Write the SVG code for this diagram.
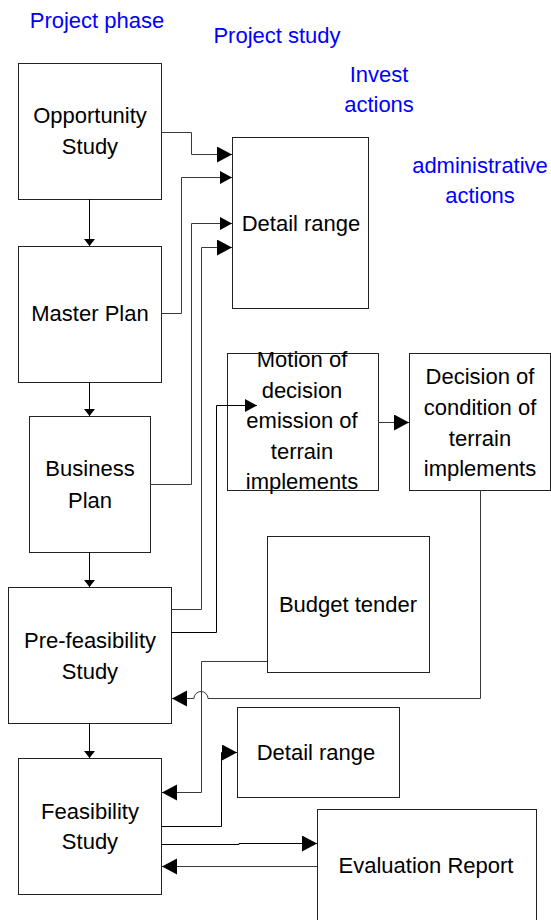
<svg xmlns="http://www.w3.org/2000/svg" width="551" height="920" viewBox="0 0 551 920">
<style>
.box{fill:#fff;stroke:#222;stroke-width:1}
.t{font-family:"Liberation Sans",Arial,sans-serif;font-size:22px;fill:#000;text-anchor:middle}
.b{font-family:"Liberation Sans",Arial,sans-serif;font-size:22px;fill:#0000ff;text-anchor:middle}
.c{fill:none;stroke:#3a3a3a;stroke-width:1}
.v{fill:none;stroke:#000;stroke-width:1}
</style>
<defs>
<marker id="big" markerUnits="userSpaceOnUse" markerWidth="16" markerHeight="17" refX="15" refY="8" orient="auto"><path d="M0,0 L15,8 L0,16 z" fill="#000"/></marker>
<marker id="mid" markerUnits="userSpaceOnUse" markerWidth="13" markerHeight="14" refX="12" refY="6.5" orient="auto"><path d="M0,0 L12,6.5 L0,13 z" fill="#000"/></marker>
<marker id="small" markerUnits="userSpaceOnUse" markerWidth="8" markerHeight="12" refX="7" refY="5.5" orient="auto"><path d="M0,0 L7,5.5 L0,11 z" fill="#000"/></marker>
</defs>
<rect width="551" height="920" fill="#fff"/>
<g id="labels">
<text class="b" x="97" y="28">Project phase</text>
<text class="b" x="277" y="43">Project study</text>
<text class="b" x="379" y="82">Invest</text>
<text class="b" x="379" y="112">actions</text>
<text class="b" x="480" y="173">administrative</text>
<text class="b" x="480" y="203">actions</text>
</g>
<g id="opportunity"><rect class="box" x="18.5" y="63.5" width="143" height="136"/><text class="t" x="90" y="123">Opportunity</text><text class="t" x="90" y="154">Study</text></g>
<g id="master"><rect class="box" x="18.5" y="246.5" width="143" height="136"/><text class="t" x="90" y="321">Master Plan</text></g>
<g id="business"><rect class="box" x="29.5" y="416.5" width="121" height="136"/><text class="t" x="90" y="476">Business</text><text class="t" x="90" y="508">Plan</text></g>
<g id="prefeasibility"><rect class="box" x="8.5" y="587.5" width="163" height="136"/><text class="t" x="90" y="648">Pre-feasibility</text><text class="t" x="90" y="679">Study</text></g>
<g id="feasibility"><rect class="box" x="18.5" y="758.5" width="143" height="136"/><text class="t" x="90" y="819">Feasibility</text><text class="t" x="90" y="849">Study</text></g>
<g id="detail1"><rect class="box" x="232.5" y="137.5" width="136" height="171"/><text class="t" x="301" y="231">Detail range</text></g>
<g id="motion"><rect class="box" x="227.5" y="353.5" width="151" height="137"/><text class="t" x="302" y="367">Motion of</text><text class="t" x="302" y="398">decision</text><text class="t" x="302" y="428">emission of</text><text class="t" x="302" y="459">terrain</text><text class="t" x="302" y="489">implements</text></g>
<g id="decision"><rect class="box" x="409.5" y="353.5" width="141" height="137"/><text class="t" x="480" y="384">Decision of</text><text class="t" x="480" y="415">condition of</text><text class="t" x="480" y="446">terrain</text><text class="t" x="480" y="476">implements</text></g>
<g id="budget"><rect class="box" x="267.5" y="536.5" width="162" height="136"/><text class="t" x="348" y="612">Budget tender</text></g>
<g id="detail2"><rect class="box" x="237.5" y="707.5" width="162" height="90"/><text class="t" x="316" y="760">Detail range</text></g>
<g id="evaluation"><rect class="box" x="317.5" y="809.5" width="219" height="130"/><text class="t" x="426" y="873">Evaluation Report</text></g>
<g id="connectors">
<path class="v" d="M89.5,199 V246" marker-end="url(#small)"/>
<path class="v" d="M89.5,382 V416" marker-end="url(#small)"/>
<path class="v" d="M89.5,552 V587" marker-end="url(#small)"/>
<path class="v" d="M89.5,723 V758" marker-end="url(#small)"/>
<path class="c" d="M161,132.5 H191.5 V154.5 H232" marker-end="url(#big)"/>
<path class="c" d="M161,313.5 H181.5 V177.5 H232" marker-end="url(#mid)"/>
<path class="c" d="M150,484.5 H191.5 V223.5 H232" marker-end="url(#mid)"/>
<path class="c" d="M171,609.5 H201.5 V247.5 H232" marker-end="url(#big)"/>
<path class="v" d="M171,632.5 H216.5 V405.5 H257" marker-end="url(#mid)"/>
<path class="c" d="M378,422.5 H409" marker-end="url(#big)"/>
<path class="c" d="M480.5,490 V698.5 H208 A7,7 0 0 0 194,698.5 H172" marker-end="url(#big)"/>
<path class="c" d="M267,661.5 H201.5 V792.5 H162" marker-end="url(#big)"/>
<path class="v" d="M161,826.5 H221.5 V752.5 H237" marker-end="url(#big)"/>
<path class="v" d="M161,844.5 H239 V843.5 H317" marker-end="url(#big)"/>
<path class="c" d="M317,866.5 H162" marker-end="url(#big)"/>
</g>
</svg>
